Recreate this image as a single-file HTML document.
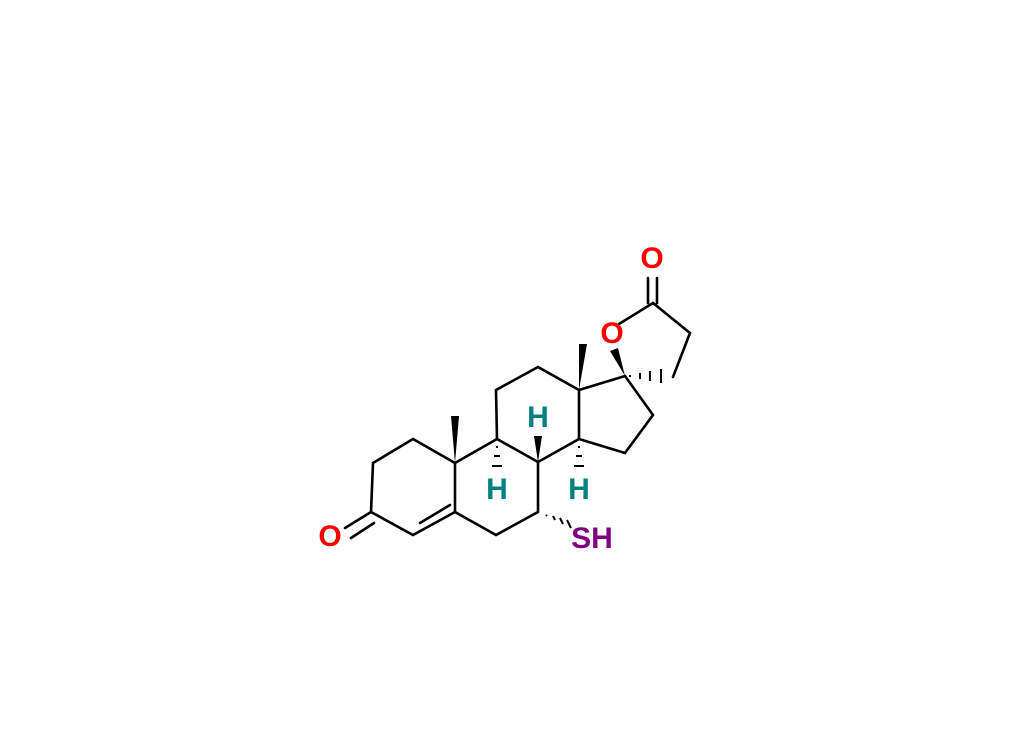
<!DOCTYPE html>
<html><head><style>body{margin:0;background:#fff}</style></head><body>
<svg width="1024" height="729" xmlns="http://www.w3.org/2000/svg">
<g stroke="#000" stroke-width="2.6" fill="none" stroke-linecap="round">
<!-- ring A -->
<polyline points="345,528 371,512 373,463 413,439 455,463 455,512 413,535 371,512"/>
<line x1="351" y1="538" x2="374" y2="523"/>
<line x1="420" y1="523" x2="450" y2="505"/>
<!-- ring B -->
<polyline points="455,463 497,439 538,462 538,512 496,535 455,512"/>
<!-- ring C -->
<polyline points="497,439 496,390 538,367 579,390 579,439 538,462"/>
<!-- ring D -->
<polyline points="579,390 625,376 653,415 625,453 579,439"/>
<!-- lactone -->
<polyline points="619,324 653,303 690,333 673,377"/>
<line x1="648" y1="303" x2="648" y2="278"/>
<line x1="657" y1="303" x2="657" y2="278"/>
</g>
<g fill="#000">
<polygon points="455,463 451,416 459,416"/>
<polygon points="579,390 579,344 587,344"/>
<polygon points="625,376 610,351 618,348"/>
<polygon points="538,462 534,436 542,436"/>
</g>
<g stroke="#000" stroke-width="2">
<line x1="630" y1="375" x2="630" y2="377"/>
<line x1="640" y1="373" x2="640" y2="379"/>
<line x1="650" y1="371" x2="650" y2="381"/>
<line x1="661" y1="369" x2="661" y2="383"/>
<line x1="497" y1="446" x2="497" y2="448"/><line x1="494" y1="456" x2="500" y2="456"/><line x1="492" y1="466" x2="502" y2="466"/>
<line x1="579" y1="446" x2="579" y2="448"/><line x1="576" y1="456" x2="582" y2="456"/><line x1="574" y1="466" x2="584" y2="466"/>
<line x1="546" y1="515" x2="547" y2="516"/><line x1="553" y1="516" x2="555" y2="520"/><line x1="560" y1="518" x2="563" y2="524"/><line x1="567" y1="520" x2="571" y2="528"/>
</g>
<g font-family="Liberation Sans, sans-serif" font-weight="bold" font-size="30" text-anchor="middle">
<text x="330" y="546" fill="#f00">O</text>
<text x="612" y="343" fill="#f00">O</text>
<text x="652" y="268" fill="#f00">O</text>
<text x="538" y="427" fill="#008080">H</text>
<text x="497" y="499" fill="#008080">H</text>
<text x="579" y="499" fill="#008080">H</text>
<text x="592" y="548" fill="#800080">SH</text>
</g>
</svg>
</body></html>
